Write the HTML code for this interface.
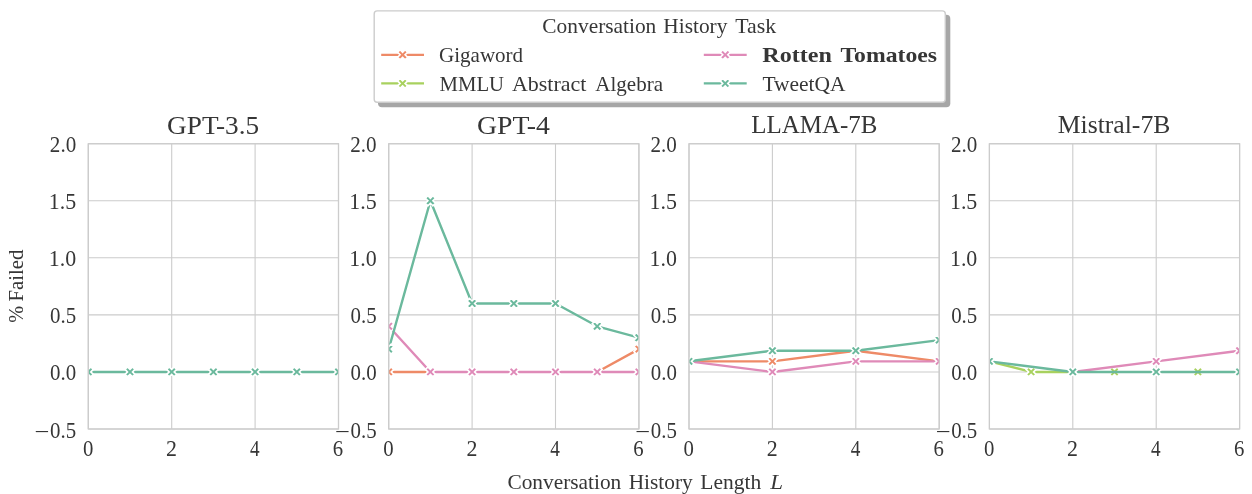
<!DOCTYPE html>
<html><head><meta charset="utf-8"><style>
html,body{margin:0;padding:0;background:#fff;}
svg{display:block;font-family:'Liberation Serif', serif;}
</style></head><body>
<svg width="1252" height="494" viewBox="0 0 1252 494">
<defs>
<clipPath id="c0"><rect x="88.3" y="143.7" width="250.2" height="285.3"/></clipPath>
<clipPath id="c1"><rect x="388.7" y="143.7" width="250.2" height="285.3"/></clipPath>
<clipPath id="c2"><rect x="689.0" y="143.7" width="250.2" height="285.3"/></clipPath>
<clipPath id="c3"><rect x="989.4" y="143.7" width="250.2" height="285.3"/></clipPath>
</defs>
<rect width="1252" height="494" fill="#ffffff"/>
<path d="M88.30,143.70H338.50M88.30,200.76H338.50M88.30,257.82H338.50M88.30,314.88H338.50M88.30,371.94H338.50M88.30,429.00H338.50M88.30,143.70V429.00M171.70,143.70V429.00M255.10,143.70V429.00M338.50,143.70V429.00" stroke="#cccccc" stroke-width="1.1" fill="none"/>
<g clip-path="url(#c0)">
<path d="M88.30,371.94 L130.00,371.94 L171.70,371.94 L213.40,371.94 L255.10,371.94 L296.80,371.94 L338.50,371.94" stroke="#6bb99d" stroke-width="2.4" fill="none" stroke-linejoin="round" stroke-linecap="butt"/>
<polygon points="85.80,366.94 88.30,369.44 90.80,366.94 93.30,369.44 90.80,371.94 93.30,374.44 90.80,376.94 88.30,374.44 85.80,376.94 83.30,374.44 85.80,371.94 83.30,369.44" fill="#6bb99d" stroke="#ffffff" stroke-width="1.6" stroke-linejoin="miter"/>
<polygon points="127.50,366.94 130.00,369.44 132.50,366.94 135.00,369.44 132.50,371.94 135.00,374.44 132.50,376.94 130.00,374.44 127.50,376.94 125.00,374.44 127.50,371.94 125.00,369.44" fill="#6bb99d" stroke="#ffffff" stroke-width="1.6" stroke-linejoin="miter"/>
<polygon points="169.20,366.94 171.70,369.44 174.20,366.94 176.70,369.44 174.20,371.94 176.70,374.44 174.20,376.94 171.70,374.44 169.20,376.94 166.70,374.44 169.20,371.94 166.70,369.44" fill="#6bb99d" stroke="#ffffff" stroke-width="1.6" stroke-linejoin="miter"/>
<polygon points="210.90,366.94 213.40,369.44 215.90,366.94 218.40,369.44 215.90,371.94 218.40,374.44 215.90,376.94 213.40,374.44 210.90,376.94 208.40,374.44 210.90,371.94 208.40,369.44" fill="#6bb99d" stroke="#ffffff" stroke-width="1.6" stroke-linejoin="miter"/>
<polygon points="252.60,366.94 255.10,369.44 257.60,366.94 260.10,369.44 257.60,371.94 260.10,374.44 257.60,376.94 255.10,374.44 252.60,376.94 250.10,374.44 252.60,371.94 250.10,369.44" fill="#6bb99d" stroke="#ffffff" stroke-width="1.6" stroke-linejoin="miter"/>
<polygon points="294.30,366.94 296.80,369.44 299.30,366.94 301.80,369.44 299.30,371.94 301.80,374.44 299.30,376.94 296.80,374.44 294.30,376.94 291.80,374.44 294.30,371.94 291.80,369.44" fill="#6bb99d" stroke="#ffffff" stroke-width="1.6" stroke-linejoin="miter"/>
<polygon points="336.00,366.94 338.50,369.44 341.00,366.94 343.50,369.44 341.00,371.94 343.50,374.44 341.00,376.94 338.50,374.44 336.00,376.94 333.50,374.44 336.00,371.94 333.50,369.44" fill="#6bb99d" stroke="#ffffff" stroke-width="1.6" stroke-linejoin="miter"/>
</g>
<rect x="88.30" y="143.70" width="250.20" height="285.30" fill="none" stroke="#cccccc" stroke-width="1.25"/>
<text x="167.06" y="133.50" font-size="26.1" fill="#363636" textLength="92.16" lengthAdjust="spacingAndGlyphs">GPT-3.5</text>
<text x="49.86" y="151.55" font-size="22.4" fill="#363636" textLength="26.35" lengthAdjust="spacingAndGlyphs">2.0</text>
<text x="48.84" y="208.61" font-size="22.4" fill="#363636" textLength="27.39" lengthAdjust="spacingAndGlyphs">1.5</text>
<text x="48.84" y="265.67" font-size="22.4" fill="#363636" textLength="27.39" lengthAdjust="spacingAndGlyphs">1.0</text>
<text x="50.10" y="322.73" font-size="22.4" fill="#363636" textLength="26.10" lengthAdjust="spacingAndGlyphs">0.5</text>
<text x="50.10" y="379.79" font-size="22.4" fill="#363636" textLength="26.10" lengthAdjust="spacingAndGlyphs">0.0</text>
<text x="34.62" y="439.10" font-size="22.4" fill="#363636" textLength="14.93" lengthAdjust="spacingAndGlyphs">−</text>
<text x="50.10" y="437.60" font-size="22.4" fill="#363636" textLength="26.10" lengthAdjust="spacingAndGlyphs">0.5</text>
<text x="82.91" y="456.20" font-size="22.4" fill="#363636" textLength="10.38" lengthAdjust="spacingAndGlyphs">0</text>
<text x="166.02" y="456.20" font-size="22.4" fill="#363636" textLength="10.95" lengthAdjust="spacingAndGlyphs">2</text>
<text x="249.97" y="456.20" font-size="22.4" fill="#363636" textLength="9.62" lengthAdjust="spacingAndGlyphs">4</text>
<text x="332.87" y="456.20" font-size="22.4" fill="#363636" textLength="10.38" lengthAdjust="spacingAndGlyphs">6</text>
<path d="M388.70,143.70H638.90M388.70,200.76H638.90M388.70,257.82H638.90M388.70,314.88H638.90M388.70,371.94H638.90M388.70,429.00H638.90M388.70,143.70V429.00M472.10,143.70V429.00M555.50,143.70V429.00M638.90,143.70V429.00" stroke="#cccccc" stroke-width="1.1" fill="none"/>
<g clip-path="url(#c1)">
<path d="M388.70,371.94 L430.40,371.94M597.20,371.94 L638.90,349.12" stroke="#ee8a67" stroke-width="2.4" fill="none" stroke-linejoin="round" stroke-linecap="butt"/>
<polygon points="386.20,366.94 388.70,369.44 391.20,366.94 393.70,369.44 391.20,371.94 393.70,374.44 391.20,376.94 388.70,374.44 386.20,376.94 383.70,374.44 386.20,371.94 383.70,369.44" fill="#ee8a67" stroke="#ffffff" stroke-width="1.6" stroke-linejoin="miter"/>
<polygon points="636.40,344.12 638.90,346.62 641.40,344.12 643.90,346.62 641.40,349.12 643.90,351.62 641.40,354.12 638.90,351.62 636.40,354.12 633.90,351.62 636.40,349.12 633.90,346.62" fill="#ee8a67" stroke="#ffffff" stroke-width="1.6" stroke-linejoin="miter"/>
<path d="M388.70,326.29 L430.40,371.94 L472.10,371.94 L513.80,371.94 L555.50,371.94 L597.20,371.94 L638.90,371.94" stroke="#df8ab8" stroke-width="2.4" fill="none" stroke-linejoin="round" stroke-linecap="butt"/>
<polygon points="386.20,321.29 388.70,323.79 391.20,321.29 393.70,323.79 391.20,326.29 393.70,328.79 391.20,331.29 388.70,328.79 386.20,331.29 383.70,328.79 386.20,326.29 383.70,323.79" fill="#df8ab8" stroke="#ffffff" stroke-width="1.6" stroke-linejoin="miter"/>
<polygon points="427.90,366.94 430.40,369.44 432.90,366.94 435.40,369.44 432.90,371.94 435.40,374.44 432.90,376.94 430.40,374.44 427.90,376.94 425.40,374.44 427.90,371.94 425.40,369.44" fill="#df8ab8" stroke="#ffffff" stroke-width="1.6" stroke-linejoin="miter"/>
<polygon points="469.60,366.94 472.10,369.44 474.60,366.94 477.10,369.44 474.60,371.94 477.10,374.44 474.60,376.94 472.10,374.44 469.60,376.94 467.10,374.44 469.60,371.94 467.10,369.44" fill="#df8ab8" stroke="#ffffff" stroke-width="1.6" stroke-linejoin="miter"/>
<polygon points="511.30,366.94 513.80,369.44 516.30,366.94 518.80,369.44 516.30,371.94 518.80,374.44 516.30,376.94 513.80,374.44 511.30,376.94 508.80,374.44 511.30,371.94 508.80,369.44" fill="#df8ab8" stroke="#ffffff" stroke-width="1.6" stroke-linejoin="miter"/>
<polygon points="553.00,366.94 555.50,369.44 558.00,366.94 560.50,369.44 558.00,371.94 560.50,374.44 558.00,376.94 555.50,374.44 553.00,376.94 550.50,374.44 553.00,371.94 550.50,369.44" fill="#df8ab8" stroke="#ffffff" stroke-width="1.6" stroke-linejoin="miter"/>
<polygon points="594.70,366.94 597.20,369.44 599.70,366.94 602.20,369.44 599.70,371.94 602.20,374.44 599.70,376.94 597.20,374.44 594.70,376.94 592.20,374.44 594.70,371.94 592.20,369.44" fill="#df8ab8" stroke="#ffffff" stroke-width="1.6" stroke-linejoin="miter"/>
<polygon points="636.40,366.94 638.90,369.44 641.40,366.94 643.90,369.44 641.40,371.94 643.90,374.44 641.40,376.94 638.90,374.44 636.40,376.94 633.90,374.44 636.40,371.94 633.90,369.44" fill="#df8ab8" stroke="#ffffff" stroke-width="1.6" stroke-linejoin="miter"/>
<path d="M388.70,349.12 L430.40,200.76 L472.10,303.47 L513.80,303.47 L555.50,303.47 L597.20,326.29 L638.90,337.70" stroke="#6bb99d" stroke-width="2.4" fill="none" stroke-linejoin="round" stroke-linecap="butt"/>
<polygon points="386.20,344.12 388.70,346.62 391.20,344.12 393.70,346.62 391.20,349.12 393.70,351.62 391.20,354.12 388.70,351.62 386.20,354.12 383.70,351.62 386.20,349.12 383.70,346.62" fill="#6bb99d" stroke="#ffffff" stroke-width="1.6" stroke-linejoin="miter"/>
<polygon points="427.90,195.76 430.40,198.26 432.90,195.76 435.40,198.26 432.90,200.76 435.40,203.26 432.90,205.76 430.40,203.26 427.90,205.76 425.40,203.26 427.90,200.76 425.40,198.26" fill="#6bb99d" stroke="#ffffff" stroke-width="1.6" stroke-linejoin="miter"/>
<polygon points="469.60,298.47 472.10,300.97 474.60,298.47 477.10,300.97 474.60,303.47 477.10,305.97 474.60,308.47 472.10,305.97 469.60,308.47 467.10,305.97 469.60,303.47 467.10,300.97" fill="#6bb99d" stroke="#ffffff" stroke-width="1.6" stroke-linejoin="miter"/>
<polygon points="511.30,298.47 513.80,300.97 516.30,298.47 518.80,300.97 516.30,303.47 518.80,305.97 516.30,308.47 513.80,305.97 511.30,308.47 508.80,305.97 511.30,303.47 508.80,300.97" fill="#6bb99d" stroke="#ffffff" stroke-width="1.6" stroke-linejoin="miter"/>
<polygon points="553.00,298.47 555.50,300.97 558.00,298.47 560.50,300.97 558.00,303.47 560.50,305.97 558.00,308.47 555.50,305.97 553.00,308.47 550.50,305.97 553.00,303.47 550.50,300.97" fill="#6bb99d" stroke="#ffffff" stroke-width="1.6" stroke-linejoin="miter"/>
<polygon points="594.70,321.29 597.20,323.79 599.70,321.29 602.20,323.79 599.70,326.29 602.20,328.79 599.70,331.29 597.20,328.79 594.70,331.29 592.20,328.79 594.70,326.29 592.20,323.79" fill="#6bb99d" stroke="#ffffff" stroke-width="1.6" stroke-linejoin="miter"/>
<polygon points="636.40,332.70 638.90,335.20 641.40,332.70 643.90,335.20 641.40,337.70 643.90,340.20 641.40,342.70 638.90,340.20 636.40,342.70 633.90,340.20 636.40,337.70 633.90,335.20" fill="#6bb99d" stroke="#ffffff" stroke-width="1.6" stroke-linejoin="miter"/>
</g>
<rect x="388.70" y="143.70" width="250.20" height="285.30" fill="none" stroke="#cccccc" stroke-width="1.25"/>
<text x="476.94" y="133.50" font-size="26.1" fill="#363636" textLength="73.08" lengthAdjust="spacingAndGlyphs">GPT-4</text>
<text x="350.26" y="151.55" font-size="22.4" fill="#363636" textLength="26.35" lengthAdjust="spacingAndGlyphs">2.0</text>
<text x="349.24" y="208.61" font-size="22.4" fill="#363636" textLength="27.39" lengthAdjust="spacingAndGlyphs">1.5</text>
<text x="349.24" y="265.67" font-size="22.4" fill="#363636" textLength="27.39" lengthAdjust="spacingAndGlyphs">1.0</text>
<text x="350.50" y="322.73" font-size="22.4" fill="#363636" textLength="26.10" lengthAdjust="spacingAndGlyphs">0.5</text>
<text x="350.50" y="379.79" font-size="22.4" fill="#363636" textLength="26.10" lengthAdjust="spacingAndGlyphs">0.0</text>
<text x="335.02" y="439.10" font-size="22.4" fill="#363636" textLength="14.93" lengthAdjust="spacingAndGlyphs">−</text>
<text x="350.50" y="437.60" font-size="22.4" fill="#363636" textLength="26.10" lengthAdjust="spacingAndGlyphs">0.5</text>
<text x="383.31" y="456.20" font-size="22.4" fill="#363636" textLength="10.38" lengthAdjust="spacingAndGlyphs">0</text>
<text x="466.42" y="456.20" font-size="22.4" fill="#363636" textLength="10.95" lengthAdjust="spacingAndGlyphs">2</text>
<text x="550.37" y="456.20" font-size="22.4" fill="#363636" textLength="9.62" lengthAdjust="spacingAndGlyphs">4</text>
<text x="633.27" y="456.20" font-size="22.4" fill="#363636" textLength="10.38" lengthAdjust="spacingAndGlyphs">6</text>
<path d="M689.00,143.70H939.20M689.00,200.76H939.20M689.00,257.82H939.20M689.00,314.88H939.20M689.00,371.94H939.20M689.00,429.00H939.20M689.00,143.70V429.00M772.40,143.70V429.00M855.80,143.70V429.00M939.20,143.70V429.00" stroke="#cccccc" stroke-width="1.1" fill="none"/>
<g clip-path="url(#c2)">
<path d="M689.00,361.33 L772.40,361.33 L855.80,350.71 L939.20,361.33" stroke="#ee8a67" stroke-width="2.4" fill="none" stroke-linejoin="round" stroke-linecap="butt"/>
<polygon points="769.90,356.33 772.40,358.83 774.90,356.33 777.40,358.83 774.90,361.33 777.40,363.83 774.90,366.33 772.40,363.83 769.90,366.33 767.40,363.83 769.90,361.33 767.40,358.83" fill="#ee8a67" stroke="#ffffff" stroke-width="1.6" stroke-linejoin="miter"/>
<polygon points="936.70,356.33 939.20,358.83 941.70,356.33 944.20,358.83 941.70,361.33 944.20,363.83 941.70,366.33 939.20,363.83 936.70,366.33 934.20,363.83 936.70,361.33 934.20,358.83" fill="#ee8a67" stroke="#ffffff" stroke-width="1.6" stroke-linejoin="miter"/>
<path d="M689.00,361.33 L772.40,371.94 L855.80,361.33 L939.20,361.33" stroke="#df8ab8" stroke-width="2.4" fill="none" stroke-linejoin="round" stroke-linecap="butt"/>
<polygon points="769.90,366.94 772.40,369.44 774.90,366.94 777.40,369.44 774.90,371.94 777.40,374.44 774.90,376.94 772.40,374.44 769.90,376.94 767.40,374.44 769.90,371.94 767.40,369.44" fill="#df8ab8" stroke="#ffffff" stroke-width="1.6" stroke-linejoin="miter"/>
<polygon points="853.30,356.33 855.80,358.83 858.30,356.33 860.80,358.83 858.30,361.33 860.80,363.83 858.30,366.33 855.80,363.83 853.30,366.33 850.80,363.83 853.30,361.33 850.80,358.83" fill="#df8ab8" stroke="#ffffff" stroke-width="1.6" stroke-linejoin="miter"/>
<polygon points="936.70,356.33 939.20,358.83 941.70,356.33 944.20,358.83 941.70,361.33 944.20,363.83 941.70,366.33 939.20,363.83 936.70,366.33 934.20,363.83 936.70,361.33 934.20,358.83" fill="#df8ab8" stroke="#ffffff" stroke-width="1.6" stroke-linejoin="miter"/>
<path d="M689.00,361.33 L772.40,350.71 L855.80,350.71 L939.20,340.10" stroke="#6bb99d" stroke-width="2.4" fill="none" stroke-linejoin="round" stroke-linecap="butt"/>
<polygon points="686.50,356.33 689.00,358.83 691.50,356.33 694.00,358.83 691.50,361.33 694.00,363.83 691.50,366.33 689.00,363.83 686.50,366.33 684.00,363.83 686.50,361.33 684.00,358.83" fill="#6bb99d" stroke="#ffffff" stroke-width="1.6" stroke-linejoin="miter"/>
<polygon points="769.90,345.71 772.40,348.21 774.90,345.71 777.40,348.21 774.90,350.71 777.40,353.21 774.90,355.71 772.40,353.21 769.90,355.71 767.40,353.21 769.90,350.71 767.40,348.21" fill="#6bb99d" stroke="#ffffff" stroke-width="1.6" stroke-linejoin="miter"/>
<polygon points="853.30,345.71 855.80,348.21 858.30,345.71 860.80,348.21 858.30,350.71 860.80,353.21 858.30,355.71 855.80,353.21 853.30,355.71 850.80,353.21 853.30,350.71 850.80,348.21" fill="#6bb99d" stroke="#ffffff" stroke-width="1.6" stroke-linejoin="miter"/>
<polygon points="936.70,335.10 939.20,337.60 941.70,335.10 944.20,337.60 941.70,340.10 944.20,342.60 941.70,345.10 939.20,342.60 936.70,345.10 934.20,342.60 936.70,340.10 934.20,337.60" fill="#6bb99d" stroke="#ffffff" stroke-width="1.6" stroke-linejoin="miter"/>
</g>
<rect x="689.00" y="143.70" width="250.20" height="285.30" fill="none" stroke="#cccccc" stroke-width="1.25"/>
<text x="751.28" y="133.30" font-size="26.1" fill="#363636" textLength="126.08" lengthAdjust="spacingAndGlyphs">LLAMA-7B</text>
<text x="650.56" y="151.55" font-size="22.4" fill="#363636" textLength="26.35" lengthAdjust="spacingAndGlyphs">2.0</text>
<text x="649.54" y="208.61" font-size="22.4" fill="#363636" textLength="27.39" lengthAdjust="spacingAndGlyphs">1.5</text>
<text x="649.54" y="265.67" font-size="22.4" fill="#363636" textLength="27.39" lengthAdjust="spacingAndGlyphs">1.0</text>
<text x="650.80" y="322.73" font-size="22.4" fill="#363636" textLength="26.10" lengthAdjust="spacingAndGlyphs">0.5</text>
<text x="650.80" y="379.79" font-size="22.4" fill="#363636" textLength="26.10" lengthAdjust="spacingAndGlyphs">0.0</text>
<text x="635.32" y="439.10" font-size="22.4" fill="#363636" textLength="14.93" lengthAdjust="spacingAndGlyphs">−</text>
<text x="650.80" y="437.60" font-size="22.4" fill="#363636" textLength="26.10" lengthAdjust="spacingAndGlyphs">0.5</text>
<text x="683.61" y="456.20" font-size="22.4" fill="#363636" textLength="10.38" lengthAdjust="spacingAndGlyphs">0</text>
<text x="766.72" y="456.20" font-size="22.4" fill="#363636" textLength="10.95" lengthAdjust="spacingAndGlyphs">2</text>
<text x="850.67" y="456.20" font-size="22.4" fill="#363636" textLength="9.62" lengthAdjust="spacingAndGlyphs">4</text>
<text x="933.57" y="456.20" font-size="22.4" fill="#363636" textLength="10.38" lengthAdjust="spacingAndGlyphs">6</text>
<path d="M989.40,143.70H1239.60M989.40,200.76H1239.60M989.40,257.82H1239.60M989.40,314.88H1239.60M989.40,371.94H1239.60M989.40,429.00H1239.60M989.40,143.70V429.00M1072.80,143.70V429.00M1156.20,143.70V429.00M1239.60,143.70V429.00" stroke="#cccccc" stroke-width="1.1" fill="none"/>
<g clip-path="url(#c3)">
<path d="M989.40,361.33 L1031.10,371.94 L1072.80,371.94" stroke="#a8d15e" stroke-width="2.4" fill="none" stroke-linejoin="round" stroke-linecap="butt"/>
<polygon points="1028.60,366.94 1031.10,369.44 1033.60,366.94 1036.10,369.44 1033.60,371.94 1036.10,374.44 1033.60,376.94 1031.10,374.44 1028.60,376.94 1026.10,374.44 1028.60,371.94 1026.10,369.44" fill="#a8d15e" stroke="#ffffff" stroke-width="1.6" stroke-linejoin="miter"/>
<polygon points="1112.00,366.94 1114.50,369.44 1117.00,366.94 1119.50,369.44 1117.00,371.94 1119.50,374.44 1117.00,376.94 1114.50,374.44 1112.00,376.94 1109.50,374.44 1112.00,371.94 1109.50,369.44" fill="#a8d15e" stroke="#ffffff" stroke-width="1.6" stroke-linejoin="miter"/>
<polygon points="1195.40,366.94 1197.90,369.44 1200.40,366.94 1202.90,369.44 1200.40,371.94 1202.90,374.44 1200.40,376.94 1197.90,374.44 1195.40,376.94 1192.90,374.44 1195.40,371.94 1192.90,369.44" fill="#a8d15e" stroke="#ffffff" stroke-width="1.6" stroke-linejoin="miter"/>
<path d="M1072.80,371.94 L1156.20,361.33 L1239.60,350.71" stroke="#df8ab8" stroke-width="2.4" fill="none" stroke-linejoin="round" stroke-linecap="butt"/>
<polygon points="1153.70,356.33 1156.20,358.83 1158.70,356.33 1161.20,358.83 1158.70,361.33 1161.20,363.83 1158.70,366.33 1156.20,363.83 1153.70,366.33 1151.20,363.83 1153.70,361.33 1151.20,358.83" fill="#df8ab8" stroke="#ffffff" stroke-width="1.6" stroke-linejoin="miter"/>
<polygon points="1237.10,345.71 1239.60,348.21 1242.10,345.71 1244.60,348.21 1242.10,350.71 1244.60,353.21 1242.10,355.71 1239.60,353.21 1237.10,355.71 1234.60,353.21 1237.10,350.71 1234.60,348.21" fill="#df8ab8" stroke="#ffffff" stroke-width="1.6" stroke-linejoin="miter"/>
<path d="M989.40,361.33 L1072.80,371.94 L1156.20,371.94 L1239.60,371.94" stroke="#6bb99d" stroke-width="2.4" fill="none" stroke-linejoin="round" stroke-linecap="butt"/>
<polygon points="986.90,356.33 989.40,358.83 991.90,356.33 994.40,358.83 991.90,361.33 994.40,363.83 991.90,366.33 989.40,363.83 986.90,366.33 984.40,363.83 986.90,361.33 984.40,358.83" fill="#6bb99d" stroke="#ffffff" stroke-width="1.6" stroke-linejoin="miter"/>
<polygon points="1070.30,366.94 1072.80,369.44 1075.30,366.94 1077.80,369.44 1075.30,371.94 1077.80,374.44 1075.30,376.94 1072.80,374.44 1070.30,376.94 1067.80,374.44 1070.30,371.94 1067.80,369.44" fill="#6bb99d" stroke="#ffffff" stroke-width="1.6" stroke-linejoin="miter"/>
<polygon points="1153.70,366.94 1156.20,369.44 1158.70,366.94 1161.20,369.44 1158.70,371.94 1161.20,374.44 1158.70,376.94 1156.20,374.44 1153.70,376.94 1151.20,374.44 1153.70,371.94 1151.20,369.44" fill="#6bb99d" stroke="#ffffff" stroke-width="1.6" stroke-linejoin="miter"/>
<polygon points="1237.10,366.94 1239.60,369.44 1242.10,366.94 1244.60,369.44 1242.10,371.94 1244.60,374.44 1242.10,376.94 1239.60,374.44 1237.10,376.94 1234.60,374.44 1237.10,371.94 1234.60,369.44" fill="#6bb99d" stroke="#ffffff" stroke-width="1.6" stroke-linejoin="miter"/>
</g>
<rect x="989.40" y="143.70" width="250.20" height="285.30" fill="none" stroke="#cccccc" stroke-width="1.25"/>
<text x="1057.76" y="133.30" font-size="26.1" fill="#363636" textLength="112.60" lengthAdjust="spacingAndGlyphs">Mistral-7B</text>
<text x="950.96" y="151.55" font-size="22.4" fill="#363636" textLength="26.35" lengthAdjust="spacingAndGlyphs">2.0</text>
<text x="949.94" y="208.61" font-size="22.4" fill="#363636" textLength="27.39" lengthAdjust="spacingAndGlyphs">1.5</text>
<text x="949.94" y="265.67" font-size="22.4" fill="#363636" textLength="27.39" lengthAdjust="spacingAndGlyphs">1.0</text>
<text x="951.20" y="322.73" font-size="22.4" fill="#363636" textLength="26.10" lengthAdjust="spacingAndGlyphs">0.5</text>
<text x="951.20" y="379.79" font-size="22.4" fill="#363636" textLength="26.10" lengthAdjust="spacingAndGlyphs">0.0</text>
<text x="935.72" y="439.10" font-size="22.4" fill="#363636" textLength="14.93" lengthAdjust="spacingAndGlyphs">−</text>
<text x="951.20" y="437.60" font-size="22.4" fill="#363636" textLength="26.10" lengthAdjust="spacingAndGlyphs">0.5</text>
<text x="984.01" y="456.20" font-size="22.4" fill="#363636" textLength="10.38" lengthAdjust="spacingAndGlyphs">0</text>
<text x="1067.12" y="456.20" font-size="22.4" fill="#363636" textLength="10.95" lengthAdjust="spacingAndGlyphs">2</text>
<text x="1151.07" y="456.20" font-size="22.4" fill="#363636" textLength="9.62" lengthAdjust="spacingAndGlyphs">4</text>
<text x="1233.97" y="456.20" font-size="22.4" fill="#363636" textLength="10.38" lengthAdjust="spacingAndGlyphs">6</text>
<text x="507.43" y="489.10" font-size="22" fill="#363636" textLength="113.89" lengthAdjust="spacingAndGlyphs">Conversation</text>
<text x="628.67" y="489.10" font-size="22" fill="#363636" textLength="64.03" lengthAdjust="spacingAndGlyphs">History</text>
<text x="700.37" y="489.10" font-size="22" fill="#363636" textLength="60.95" lengthAdjust="spacingAndGlyphs">Length</text>
<text x="770.26" y="489.10" font-size="22" fill="#363636" textLength="12.78" lengthAdjust="spacingAndGlyphs" font-style="italic">L</text>
<text x="-322.69" y="22.70" font-size="22" fill="#363636" textLength="16.85" lengthAdjust="spacingAndGlyphs" transform="rotate(-90)">%</text>
<text x="-301.61" y="22.70" font-size="22" fill="#363636" textLength="51.94" lengthAdjust="spacingAndGlyphs" transform="rotate(-90)">Failed</text>
<rect x="377.99999999999994" y="14.700000000000001" width="572.3" height="92.5" rx="4" fill="#a6a6a6"/>
<rect x="374.2" y="10.9" width="571.0999999999999" height="91.3" rx="3" fill="#ffffff" stroke="#cccccc" stroke-width="1.4"/>
<text x="542.33" y="33.00" font-size="22" fill="#363636" textLength="113.99" lengthAdjust="spacingAndGlyphs">Conversation</text>
<text x="663.27" y="33.00" font-size="22" fill="#363636" textLength="64.13" lengthAdjust="spacingAndGlyphs">History</text>
<text x="735.20" y="33.00" font-size="22" fill="#363636" textLength="40.98" lengthAdjust="spacingAndGlyphs">Task</text>
<path d="M381.2,54.8H424.0" stroke="#ee8a67" stroke-width="2.3" fill="none"/>
<polygon points="400.10,49.80 402.60,52.30 405.10,49.80 407.60,52.30 405.10,54.80 407.60,57.30 405.10,59.80 402.60,57.30 400.10,59.80 397.60,57.30 400.10,54.80 397.60,52.30" fill="#ee8a67" stroke="#ffffff" stroke-width="1.6" stroke-linejoin="miter"/>
<path d="M381.2,83.4H424.0" stroke="#a8d15e" stroke-width="2.3" fill="none"/>
<polygon points="400.10,78.40 402.60,80.90 405.10,78.40 407.60,80.90 405.10,83.40 407.60,85.90 405.10,88.40 402.60,85.90 400.10,88.40 397.60,85.90 400.10,83.40 397.60,80.90" fill="#a8d15e" stroke="#ffffff" stroke-width="1.6" stroke-linejoin="miter"/>
<path d="M703.8,54.8H746.7" stroke="#df8ab8" stroke-width="2.3" fill="none"/>
<polygon points="722.75,49.80 725.25,52.30 727.75,49.80 730.25,52.30 727.75,54.80 730.25,57.30 727.75,59.80 725.25,57.30 722.75,59.80 720.25,57.30 722.75,54.80 720.25,52.30" fill="#df8ab8" stroke="#ffffff" stroke-width="1.6" stroke-linejoin="miter"/>
<path d="M703.8,83.4H746.7" stroke="#6bb99d" stroke-width="2.3" fill="none"/>
<polygon points="722.75,78.40 725.25,80.90 727.75,78.40 730.25,80.90 727.75,83.40 730.25,85.90 727.75,88.40 725.25,85.90 722.75,88.40 720.25,85.90 722.75,83.40 720.25,80.90" fill="#6bb99d" stroke="#ffffff" stroke-width="1.6" stroke-linejoin="miter"/>
<text x="439.04" y="61.90" font-size="22" fill="#363636" textLength="84.08" lengthAdjust="spacingAndGlyphs">Gigaword</text>
<text x="439.59" y="90.70" font-size="22" fill="#363636" textLength="64.43" lengthAdjust="spacingAndGlyphs">MMLU</text>
<text x="511.95" y="90.70" font-size="22" fill="#363636" textLength="74.48" lengthAdjust="spacingAndGlyphs">Abstract</text>
<text x="595.26" y="90.70" font-size="22" fill="#363636" textLength="67.78" lengthAdjust="spacingAndGlyphs">Algebra</text>
<text x="762.35" y="61.90" font-size="22" fill="#363636" textLength="69.57" lengthAdjust="spacingAndGlyphs" font-weight="bold">Rotten</text>
<text x="840.43" y="61.90" font-size="22" fill="#363636" textLength="96.56" lengthAdjust="spacingAndGlyphs" font-weight="bold">Tomatoes</text>
<text x="762.41" y="90.70" font-size="22" fill="#363636" textLength="83.20" lengthAdjust="spacingAndGlyphs">TweetQA</text>
</svg>
</body></html>
